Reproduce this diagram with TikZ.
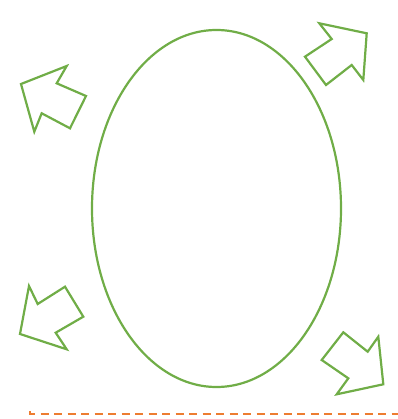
\documentclass[tikz,border=0pt]{standalone}
\definecolor{leafgreen}{RGB}{112,173,71}
\definecolor{darkorange}{RGB}{237,125,49}

\begin{document}
\begin{tikzpicture}[x=1pt, y=-1pt,
	outline/.style={draw=leafgreen, line width=2.2pt},
	cutline/.style={draw=darkorange, line width=2pt, dash pattern=on 8pt off 5.5pt}]

\useasboundingbox (0,0) rectangle (397,419);

% grosses Oval in der Mitte
\draw[outline] (216.5,208.5) ellipse [x radius=124.5, y radius=178.5];

% Blockpfeile nach aussen: oben rechts, oben links, unten links, unten rechts
\draw[outline] (319.3,23.3) -- (366.7,33.3) -- (363.3,80) -- (351.7,65)
	-- (326,85) -- (305,56.7) -- (331.7,39) -- cycle;
\draw[outline] (66.7,66) -- (56.7,83.3) -- (86,96) -- (70,128.3)
	-- (41.7,113.3) -- (34.3,131.7) -- (21,84) -- cycle;
\draw[outline] (29,286) -- (37.7,304) -- (65,286.7) -- (83.3,316.7)
	-- (55.7,332.7) -- (66.7,349.3) -- (20,334) -- cycle;
\draw[outline] (343.3,332.3) -- (367.7,351.7) -- (378.3,336.7) -- (383.3,384.3)
	-- (336.7,394.3) -- (348.3,378.3) -- (321.7,360) -- cycle;

% gestrichelte Kante unten
\draw[cutline] (30,411) -- (30,414) -- (400,414);

\end{tikzpicture}
\end{document}
